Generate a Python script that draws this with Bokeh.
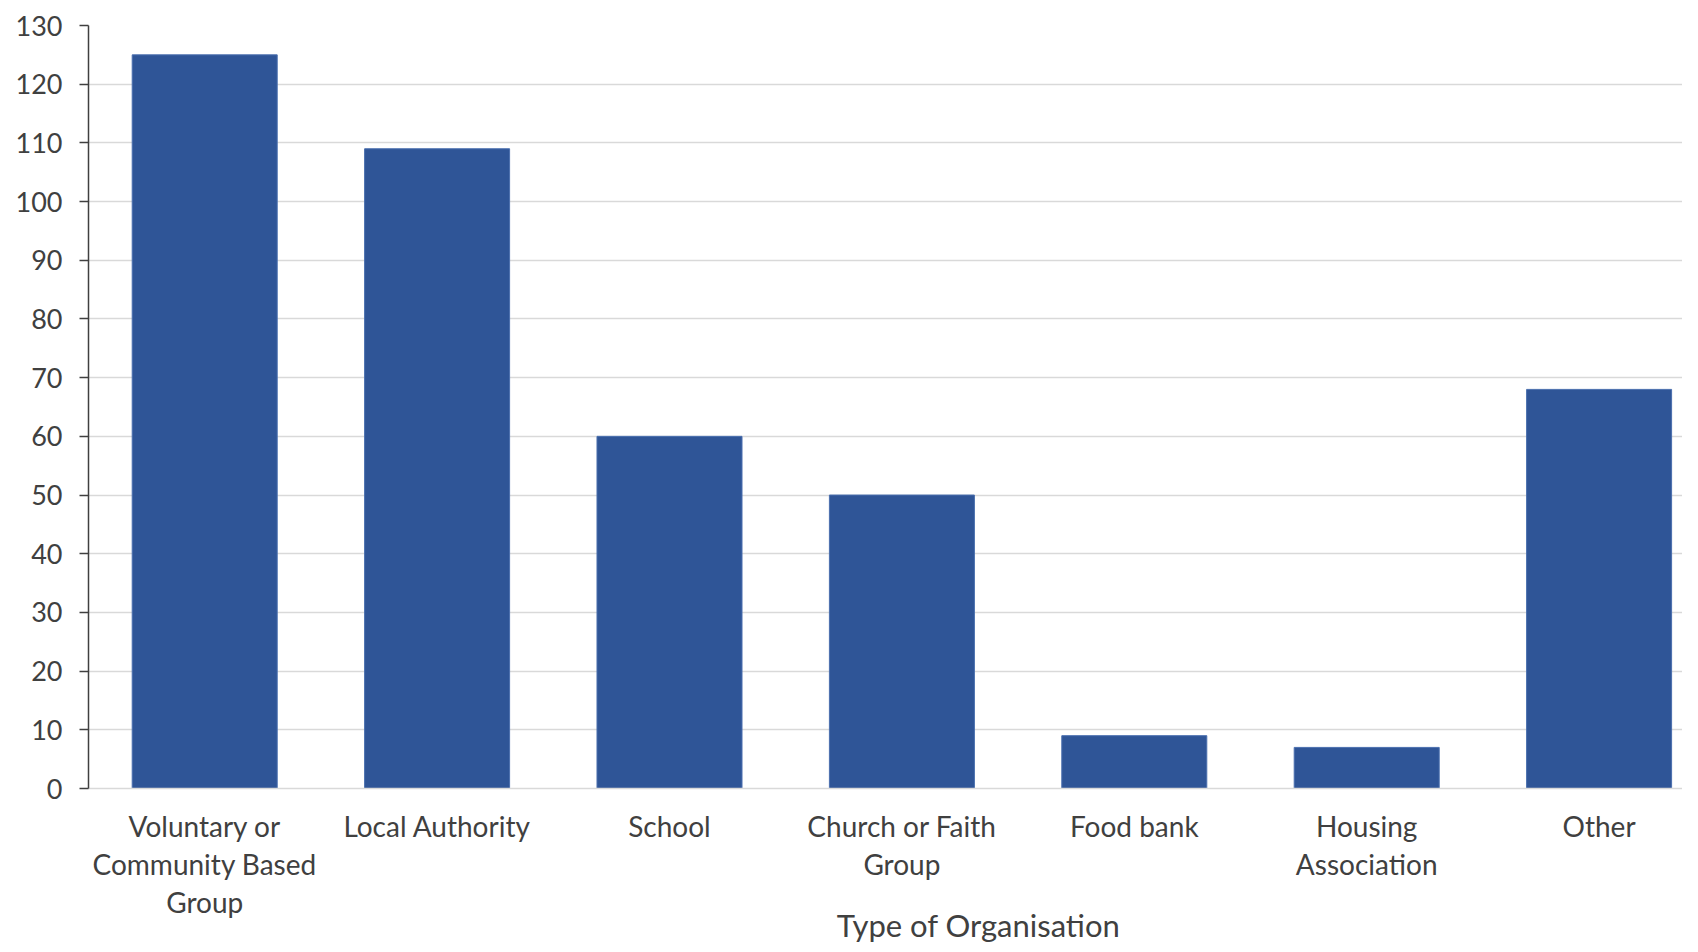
from bokeh.plotting import figure
from bokeh.models import Range1d, FixedTicker, LinearAxis
from bokeh.embed import file_html
from bokeh.resources import INLINE

categories = ["Voluntary or\nCommunity Based\nGroup", "Local Authority", "School",
              "Church or Faith\nGroup", "Food bank", "Housing\nAssociation", "Other"]
counts = [125, 109, 60, 50, 9, 7, 68]
y_ticks = [0, 10, 20, 30, 40, 50, 60, 70, 80, 90, 100, 110, 120, 130]
x_title = "Type of Organisation"

FONT = "Lato"
TXT = "#404040"

xs = list(range(len(categories)))

FW, FH = 1594, 763
p = figure(frame_width=FW, frame_height=FH, output_backend="svg", toolbar_location=None,
           x_range=Range1d(-0.5, -0.5 + FW / 232.4), y_range=Range1d(0, 130),
           min_border_left=88, min_border_top=25, min_border_right=0, min_border_bottom=0)
p.outline_line_color = None

p.vbar(x=xs, top=counts, width=0.624, fill_color="#2F5597", line_color="#4a6fae", line_width=1)

p.yaxis.ticker = FixedTicker(ticks=y_ticks)
p.yaxis.minor_tick_line_color = None
p.yaxis.major_tick_in = 0
p.yaxis.major_tick_out = 9
p.yaxis.axis_line_color = "#404040"
p.yaxis.axis_line_width = 1.5
p.yaxis.major_tick_line_color = "#404040"
p.yaxis.major_tick_line_width = 1.5
p.yaxis.major_label_standoff = 17
p.yaxis.major_label_text_font = FONT
p.yaxis.major_label_text_font_size = "27px"
p.yaxis.major_label_text_color = TXT

p.xaxis.ticker = FixedTicker(ticks=xs)
p.xaxis.major_label_overrides = {i: c for i, c in enumerate(categories)}
p.xaxis.minor_tick_line_color = None
p.xaxis.major_tick_line_color = None
p.xaxis.axis_line_color = "#d9d9d9"
p.xaxis.axis_line_width = 1.5
p.xaxis.major_label_standoff = 14
p.xaxis.major_label_text_font = FONT
p.xaxis.major_label_text_font_size = "28px"
p.xaxis.major_label_text_color = TXT
p.xaxis.major_label_text_line_height = 1.13

p.xgrid.grid_line_color = None
p.ygrid.ticker = FixedTicker(ticks=y_ticks)
p.ygrid.grid_line_color = "#d9d9d9"
p.ygrid.grid_line_width = 1.5

# axis title, placed as a second (label-only) axis below the category labels
title_pos = 3.33
title_axis = LinearAxis(ticker=FixedTicker(ticks=[title_pos]),
                        major_label_overrides={title_pos: x_title})
title_axis.axis_line_color = None
title_axis.major_tick_line_color = None
title_axis.minor_tick_line_color = None
title_axis.major_tick_out = 0
title_axis.major_tick_in = 0
title_axis.major_label_standoff = -17
title_axis.major_label_text_font = FONT
title_axis.major_label_text_font_size = "31px"
title_axis.major_label_text_color = TXT
p.add_layout(title_axis, "below")

open("out.html", "w").write(file_html(p, INLINE))
